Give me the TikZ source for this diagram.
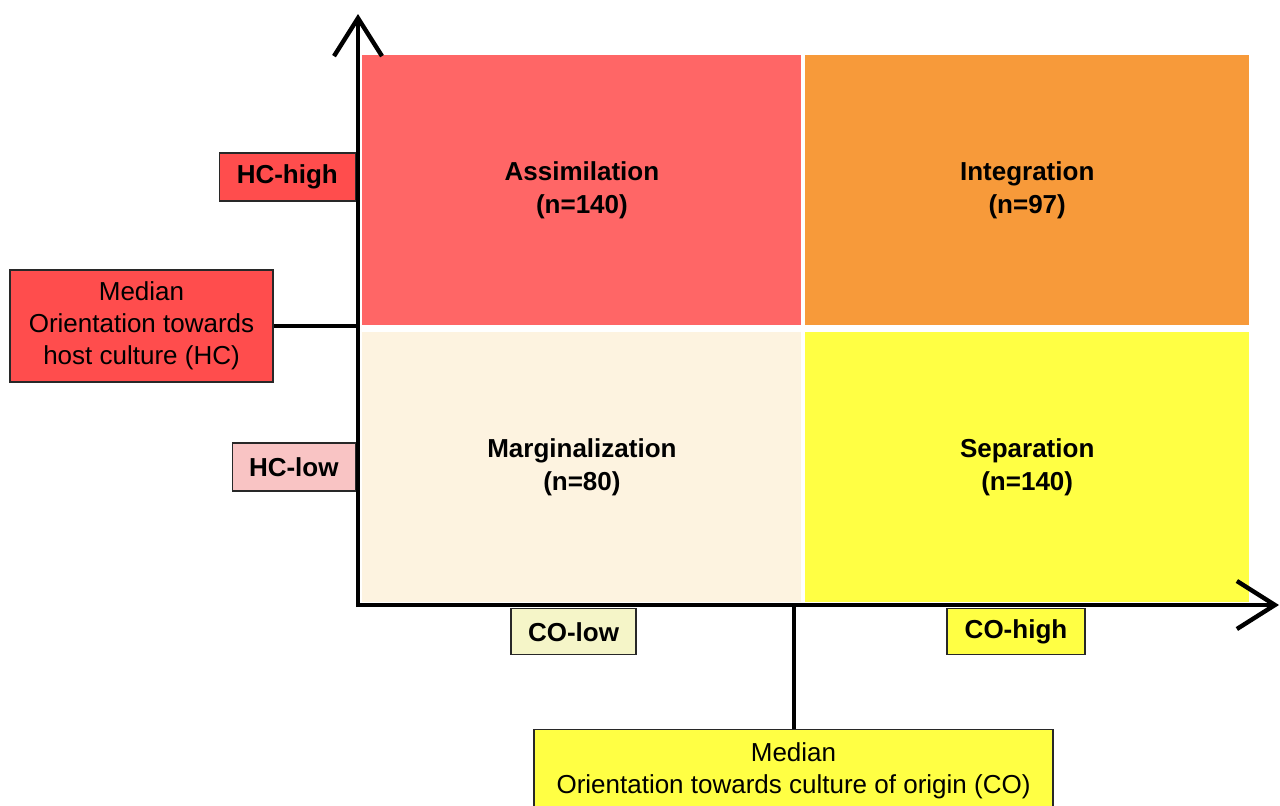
\documentclass[tikz,border=0pt]{standalone}
\usepackage{fontspec}
\setmainfont{Liberation Sans}
\usepackage{xcolor}
\usetikzlibrary{arrows.meta, positioning}
\definecolor{assimred}{RGB}{255, 102, 102}
\definecolor{integorange}{RGB}{247, 154, 58}
\definecolor{margcream}{RGB}{253, 243, 224}
\definecolor{sepyellow}{RGB}{255, 255, 68}
\definecolor{hchighred}{RGB}{255, 77, 77}
\definecolor{hclowpink}{RGB}{249, 196, 196}
\definecolor{colowpale}{RGB}{245, 245, 200}
\definecolor{boxline}{RGB}{40, 40, 40}

\begin{document}
\begin{tikzpicture}[
    x=0.5pt, y=-0.5pt,
    quadrant/.style={
        rectangle, inner sep=0pt, align=center,
        minimum width=219.5pt, minimum height=135pt,
        font=\fontsize{13}{16.5}\selectfont\bfseries
    },
    tag/.style={
        rectangle, draw=boxline, line width=0.7pt, inner sep=0pt,
        minimum height=24pt, font=\fontsize{13}{16.5}\selectfont\bfseries
    },
    median/.style={
        rectangle, draw=boxline, line width=0.7pt, inner sep=0pt, align=center,
        font=\fontsize{13}{16}\selectfont
    },
    axis/.style={draw, line width=2.2pt, -{Straight Barb[length=19pt, width=24pt, line width=2.2pt]}},
    link/.style={draw, line width=2pt}
]
    \useasboundingbox (0,0) rectangle (1280,805);

    % quadrants
    \node [quadrant, fill=assimred, anchor=north west] (assim) at (362,55) {Assimilation\\(n=140)};
    \node [quadrant, fill=integorange, minimum width=222pt, right=1.5pt of assim] (integ) {Integration\\(n=97)};
    \node [quadrant, fill=margcream, below=3pt of assim] (marg) {Marginalization\\(n=80)};
    \node [quadrant, fill=sepyellow, minimum width=222pt, below=3pt of integ] (sep) {Separation\\(n=140)};

    % axes
    \coordinate (origin) at (358,605);
    \coordinate (ytip) at (358,14);
    \coordinate (xtip) at (1279,605);
    \path [axis] (origin) ++(0,2) -- (ytip);
    \path [axis] (origin) ++(-2,0) -- (xtip);

    % level tags
    \node [tag, fill=hchighred, minimum width=68pt, anchor=east] (hchigh) at (356,177) {HC-high};
    \node [tag, fill=hclowpink, minimum width=61.5pt, anchor=east] (hclow) at (356,467) {HC-low};
    \node [tag, fill=colowpale, minimum width=62.5pt, minimum height=23pt, anchor=north] (colow) at (573.5,608) {CO-low};
    \node [tag, fill=sepyellow, minimum width=69pt, minimum height=23pt, anchor=north] (cohigh) at (1016,608) {CO-high};

    % medians
    \node [median, fill=hchighred, minimum width=131.5pt, minimum height=56pt] (medhc) at (141.5,326) {Median\\Orientation towards\\host culture (HC)};
    \node [median, fill=sepyellow, minimum width=259.5pt, minimum height=41pt, anchor=north] (medco) at (793.5,729) {Median\\Orientation towards culture of origin (CO)};

    \path [link] (medhc.east) -- (medhc.east -| origin);
    \path [link] (medco.north) -- (medco.north |- origin);
\end{tikzpicture}
\end{document}
